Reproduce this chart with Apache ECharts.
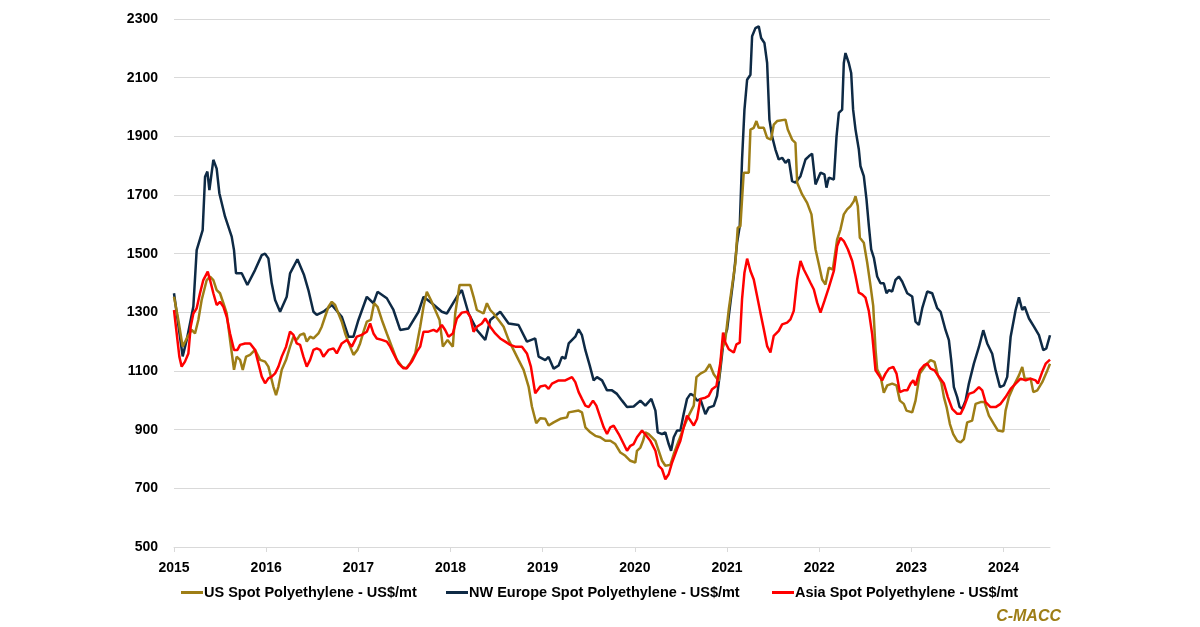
<!DOCTYPE html>
<html>
<head>
<meta charset="utf-8">
<script src="https://cdn.jsdelivr.net/npm/echarts@6/dist/echarts.min.js"></script>
<style>
html,body{margin:0;padding:0;background:#fff;}
#chart{width:1200px;height:627px;}
</style>
</head>
<body>
<div id="chart"></div>
<script>
// ---- Data (decimal years, US$/mt) ----
var yearTicks = [2015, 2016, 2017, 2018, 2019, 2020, 2021, 2022, 2023, 2024];
var yTickLabels = [500, 700, 900, 1100, 1300, 1500, 1700, 1900, 2100, 2300];
var seriesNames = ['US Spot Polyethylene - US$/mt', 'NW Europe Spot Polyethylene - US$/mt', 'Asia Spot Polyethylene - US$/mt'];

var usYears = [2015.000,2015.047,2015.094,2015.138,2015.192,2015.228,2015.264,2015.300,2015.355,2015.391,2015.427,2015.463,2015.499,2015.536,2015.572,2015.608,2015.651,2015.680,2015.717,2015.746,2015.782,2015.825,2015.879,2015.934,2015.988,2016.024,2016.078,2016.107,2016.133,2016.169,2016.216,2016.259,2016.296,2016.332,2016.368,2016.411,2016.440,2016.477,2016.513,2016.567,2016.603,2016.639,2016.676,2016.712,2016.748,2016.784,2016.820,2016.857,2016.911,2016.947,2016.990,2017.019,2017.056,2017.092,2017.135,2017.171,2017.208,2017.255,2017.309,2017.363,2017.418,2017.472,2017.519,2017.562,2017.617,2017.671,2017.707,2017.743,2017.787,2017.834,2017.881,2017.917,2017.968,2018.025,2018.051,2018.098,2018.214,2018.250,2018.286,2018.358,2018.395,2018.431,2018.467,2018.521,2018.576,2018.630,2018.684,2018.738,2018.793,2018.847,2018.883,2018.930,2018.974,2019.028,2019.064,2019.119,2019.191,2019.264,2019.282,2019.390,2019.426,2019.463,2019.517,2019.571,2019.625,2019.680,2019.734,2019.788,2019.843,2019.897,2019.951,2020.005,2020.023,2020.060,2020.089,2020.114,2020.150,2020.186,2020.223,2020.259,2020.295,2020.331,2020.385,2020.422,2020.476,2020.530,2020.584,2020.639,2020.668,2020.711,2020.765,2020.812,2020.856,2020.910,2020.946,2020.982,2021.019,2021.055,2021.091,2021.116,2021.145,2021.181,2021.236,2021.254,2021.290,2021.319,2021.344,2021.399,2021.435,2021.478,2021.507,2021.543,2021.634,2021.659,2021.706,2021.742,2021.761,2021.815,2021.869,2021.916,2021.960,2021.996,2022.032,2022.068,2022.104,2022.148,2022.195,2022.231,2022.267,2022.303,2022.340,2022.376,2022.394,2022.419,2022.441,2022.484,2022.521,2022.557,2022.586,2022.611,2022.629,2022.665,2022.701,2022.738,2022.792,2022.839,2022.875,2022.918,2022.947,2023.009,2023.045,2023.092,2023.154,2023.208,2023.251,2023.288,2023.324,2023.353,2023.382,2023.418,2023.454,2023.497,2023.534,2023.570,2023.606,2023.660,2023.697,2023.751,2023.794,2023.841,2023.896,2023.939,2023.997,2024.022,2024.058,2024.113,2024.167,2024.203,2024.229,2024.294,2024.323,2024.366,2024.420,2024.475,2024.504];
var usValues = [1353,1274,1183,1211,1240,1228,1274,1342,1410,1422,1410,1376,1365,1331,1296,1206,1104,1149,1138,1104,1149,1155,1172,1138,1132,1115,1047,1018,1047,1104,1138,1183,1217,1206,1223,1228,1200,1217,1211,1228,1251,1285,1319,1336,1325,1296,1268,1228,1183,1155,1172,1194,1234,1268,1274,1331,1319,1274,1228,1183,1138,1115,1109,1126,1160,1251,1319,1370,1342,1308,1274,1183,1206,1183,1296,1393,1393,1353,1308,1296,1331,1308,1296,1274,1251,1206,1172,1138,1104,1047,979,922,939,937,914,925,937,942,959,965,959,908,891,879,874,862,862,851,822,811,794,788,828,839,862,891,885,874,862,828,794,777,780,817,862,908,948,982,1079,1091,1100,1123,1089,1066,1174,1208,1310,1390,1469,1588,1594,1776,1776,1923,1929,1952,1929,1929,1895,1889,1940,1952,1957,1923,1889,1878,1742,1702,1673,1634,1515,1464,1412,1395,1452,1446,1549,1583,1634,1651,1662,1679,1696,1662,1554,1537,1469,1390,1322,1174,1106,1083,1026,1051,1057,1051,999,988,965,959,999,1091,1119,1137,1131,1085,1062,1011,977,919,885,862,857,868,925,931,988,994,994,948,919,897,894,965,1011,1051,1085,1114,1074,1074,1028,1034,1062,1102,1125];

var euYears = [2015.000,2015.094,2015.138,2015.210,2015.246,2015.311,2015.337,2015.362,2015.384,2015.427,2015.463,2015.492,2015.554,2015.626,2015.651,2015.673,2015.735,2015.796,2015.879,2015.952,2015.988,2016.024,2016.060,2016.097,2016.151,2016.223,2016.259,2016.339,2016.411,2016.458,2016.513,2016.549,2016.621,2016.712,2016.820,2016.893,2016.947,2017.001,2017.092,2017.164,2017.208,2017.309,2017.381,2017.454,2017.544,2017.653,2017.707,2017.798,2017.906,2017.960,2018.069,2018.123,2018.196,2018.286,2018.377,2018.431,2018.539,2018.630,2018.738,2018.829,2018.919,2018.956,2019.028,2019.064,2019.119,2019.173,2019.209,2019.245,2019.282,2019.354,2019.390,2019.426,2019.463,2019.510,2019.553,2019.589,2019.644,2019.698,2019.752,2019.806,2019.861,2019.915,2019.987,2020.060,2020.114,2020.179,2020.223,2020.248,2020.295,2020.331,2020.367,2020.393,2020.422,2020.458,2020.494,2020.530,2020.566,2020.603,2020.639,2020.675,2020.711,2020.765,2020.801,2020.856,2020.892,2020.928,2020.964,2021.001,2021.037,2021.073,2021.109,2021.138,2021.163,2021.189,2021.218,2021.254,2021.272,2021.308,2021.344,2021.370,2021.406,2021.435,2021.460,2021.489,2021.525,2021.561,2021.598,2021.634,2021.670,2021.706,2021.742,2021.797,2021.851,2021.887,2021.923,2021.960,2022.014,2022.057,2022.079,2022.104,2022.159,2022.188,2022.213,2022.249,2022.267,2022.285,2022.321,2022.347,2022.368,2022.394,2022.430,2022.448,2022.484,2022.513,2022.539,2022.564,2022.593,2022.629,2022.665,2022.701,2022.730,2022.756,2022.792,2022.828,2022.864,2022.900,2022.955,2023.009,2023.045,2023.081,2023.118,2023.172,2023.226,2023.280,2023.317,2023.371,2023.407,2023.432,2023.461,2023.497,2023.523,2023.552,2023.588,2023.624,2023.678,2023.733,2023.780,2023.823,2023.877,2023.914,2023.961,2024.004,2024.040,2024.077,2024.131,2024.167,2024.203,2024.229,2024.276,2024.330,2024.384,2024.431,2024.464,2024.504];
var euValues = [1365,1150,1206,1320,1512,1580,1762,1780,1717,1820,1790,1706,1626,1558,1512,1433,1433,1393,1444,1495,1500,1484,1399,1342,1302,1353,1433,1481,1427,1376,1302,1291,1302,1325,1285,1217,1217,1274,1353,1331,1370,1348,1308,1240,1245,1302,1353,1331,1302,1296,1353,1376,1296,1240,1206,1274,1302,1262,1257,1200,1211,1149,1137,1148,1108,1119,1148,1142,1194,1217,1242,1222,1171,1119,1068,1079,1068,1034,1034,1022,999,977,979,999,982,1005,965,891,885,891,851,828,874,897,897,954,1005,1022,1016,999,1004,953,975,981,1015,1106,1208,1242,1333,1424,1537,1594,1821,1991,2093,2110,2241,2269,2275,2235,2218,2150,1957,1900,1855,1821,1827,1810,1821,1747,1742,1764,1821,1832,1841,1736,1776,1770,1725,1759,1753,1900,1980,1991,2150,2184,2150,2116,1991,1923,1855,1798,1764,1685,1594,1515,1486,1422,1399,1399,1365,1376,1371,1411,1422,1405,1365,1354,1268,1257,1314,1371,1365,1314,1302,1239,1205,1137,1045,1011,977,971,999,1057,1125,1182,1239,1194,1159,1102,1045,1051,1080,1217,1308,1351,1308,1319,1279,1251,1222,1171,1177,1222];

var asYears = [2015.000,2015.029,2015.058,2015.083,2015.119,2015.156,2015.181,2015.210,2015.246,2015.282,2015.318,2015.366,2015.391,2015.427,2015.463,2015.499,2015.536,2015.572,2015.608,2015.651,2015.688,2015.717,2015.771,2015.825,2015.879,2015.916,2015.952,2015.988,2016.024,2016.060,2016.097,2016.133,2016.169,2016.216,2016.259,2016.296,2016.332,2016.368,2016.404,2016.440,2016.477,2016.513,2016.549,2016.585,2016.621,2016.676,2016.730,2016.766,2016.820,2016.875,2016.929,2016.983,2017.037,2017.092,2017.128,2017.164,2017.200,2017.255,2017.309,2017.345,2017.381,2017.436,2017.490,2017.526,2017.580,2017.635,2017.671,2017.707,2017.761,2017.816,2017.852,2017.906,2017.942,2017.978,2018.025,2018.069,2018.123,2018.178,2018.214,2018.250,2018.286,2018.340,2018.377,2018.431,2018.485,2018.539,2018.594,2018.648,2018.702,2018.775,2018.829,2018.872,2018.919,2018.974,2019.028,2019.064,2019.101,2019.173,2019.245,2019.318,2019.354,2019.390,2019.426,2019.463,2019.499,2019.546,2019.582,2019.625,2019.662,2019.698,2019.734,2019.770,2019.825,2019.879,2019.915,2019.951,2019.987,2020.023,2020.078,2020.125,2020.168,2020.223,2020.259,2020.295,2020.331,2020.367,2020.404,2020.458,2020.494,2020.530,2020.566,2020.603,2020.639,2020.675,2020.711,2020.765,2020.801,2020.838,2020.885,2020.928,2020.957,2020.982,2021.019,2021.073,2021.102,2021.138,2021.163,2021.189,2021.218,2021.254,2021.290,2021.326,2021.362,2021.399,2021.435,2021.471,2021.507,2021.561,2021.598,2021.652,2021.688,2021.724,2021.761,2021.797,2021.833,2021.869,2021.905,2021.942,2021.978,2022.014,2022.057,2022.104,2022.159,2022.195,2022.231,2022.267,2022.311,2022.358,2022.394,2022.430,2022.466,2022.502,2022.538,2022.575,2022.611,2022.647,2022.683,2022.719,2022.756,2022.803,2022.839,2022.875,2022.918,2022.955,2022.991,2023.020,2023.045,2023.092,2023.136,2023.172,2023.208,2023.251,2023.299,2023.353,2023.396,2023.443,2023.497,2023.534,2023.570,2023.624,2023.678,2023.733,2023.769,2023.805,2023.859,2023.914,2023.968,2024.022,2024.077,2024.131,2024.185,2024.240,2024.294,2024.348,2024.373,2024.420,2024.457,2024.504];
var asValues = [1308,1228,1149,1115,1132,1160,1251,1296,1314,1365,1410,1439,1410,1365,1325,1336,1319,1285,1228,1172,1172,1189,1194,1194,1172,1126,1081,1058,1075,1081,1092,1115,1149,1183,1234,1223,1194,1189,1149,1115,1138,1172,1177,1172,1149,1172,1177,1160,1194,1206,1183,1217,1223,1234,1262,1228,1211,1206,1200,1183,1160,1126,1109,1109,1132,1166,1183,1234,1234,1240,1234,1257,1240,1217,1228,1279,1299,1302,1285,1234,1251,1262,1279,1251,1228,1211,1200,1189,1183,1183,1160,1115,1024,1047,1051,1039,1057,1068,1068,1079,1062,1028,1005,982,977,999,982,942,908,885,908,914,885,851,828,845,851,874,897,879,862,828,777,765,731,748,788,834,862,908,948,931,914,937,1005,1009,1015,1038,1049,1129,1231,1197,1174,1163,1191,1197,1345,1435,1483,1441,1412,1356,1299,1242,1185,1163,1220,1237,1259,1265,1276,1305,1412,1475,1446,1424,1401,1378,1333,1299,1339,1384,1441,1526,1554,1543,1515,1475,1424,1367,1361,1350,1305,1225,1102,1085,1068,1091,1108,1114,1091,1028,1034,1034,1057,1068,1051,1102,1119,1125,1108,1102,1080,1057,1011,971,954,954,977,1022,1028,1045,1034,994,977,977,988,1011,1039,1057,1074,1068,1074,1068,1057,1097,1125,1139];

var colors = ['#9E7E16', '#0E2A45', '#FF0000'];

function pairs(xs, ys) {
  var out = [];
  for (var i = 0; i < xs.length; i++) out.push([xs[i], ys[i]]);
  return out;
}

var chart = echarts.init(document.getElementById('chart'), null, {renderer: 'canvas'});
var font = '"Liberation Sans", Arial, sans-serif';

function legendAt(left, name) {
  return {
    left: left, top: 585, padding: 0,
    icon: 'rect', itemWidth: 22, itemHeight: 3,
    data: [name],
    textStyle: {fontFamily: font, fontWeight: 'bold', fontSize: 14.5, color: '#000', padding: [0, 0, 0, -4]},
    selectedMode: false
  };
}

chart.setOption({
  animation: false,
  backgroundColor: '#ffffff',
  color: colors,
  grid: {left: 174, right: 150, top: 19, bottom: 80, containLabel: false},
  legend: [legendAt(181, seriesNames[0]), legendAt(446, seriesNames[1]), legendAt(772, seriesNames[2])],
  xAxis: {
    type: 'value', min: 2015, max: 2024.504, interval: 1,
    axisLine: {show: true, lineStyle: {color: '#d9d9d9', width: 1}},
    axisTick: {show: true, length: 5, lineStyle: {color: '#d9d9d9'}, customValues: yearTicks},
    axisLabel: {customValues: yearTicks, fontFamily: font, fontWeight: 'bold', fontSize: 14, color: '#000', margin: 14,
      formatter: function (v) { return String(Math.round(v)); }},
    splitLine: {show: false}
  },
  yAxis: {
    type: 'value', min: 500, max: 2300, interval: 200,
    axisLine: {show: false}, axisTick: {show: false},
    axisLabel: {fontFamily: font, fontWeight: 'bold', fontSize: 14, color: '#000', margin: 16,
      formatter: function (v) { return yTickLabels.indexOf(v) >= 0 ? String(v) : ''; }},
    splitLine: {show: true, lineStyle: {color: '#d9d9d9', width: 1}}
  },
  graphic: [{
    type: 'text', right: 139, top: 609,
    style: {text: 'C-MACC', fill: '#9E7E16', font: 'italic bold 16px ' + font}
  }],
  series: [
    {name: seriesNames[0], type: 'line', data: pairs(usYears, usValues), showSymbol: false, symbol: 'none',
     lineStyle: {width: 2.5, color: colors[0]}, itemStyle: {color: colors[0]}, z: 3},
    {name: seriesNames[1], type: 'line', data: pairs(euYears, euValues), showSymbol: false, symbol: 'none',
     lineStyle: {width: 2.5, color: colors[1]}, itemStyle: {color: colors[1]}, z: 2},
    {name: seriesNames[2], type: 'line', data: pairs(asYears, asValues), showSymbol: false, symbol: 'none',
     lineStyle: {width: 2.5, color: colors[2]}, itemStyle: {color: colors[2]}, z: 4}
  ]
});
</script>
</body>
</html>
